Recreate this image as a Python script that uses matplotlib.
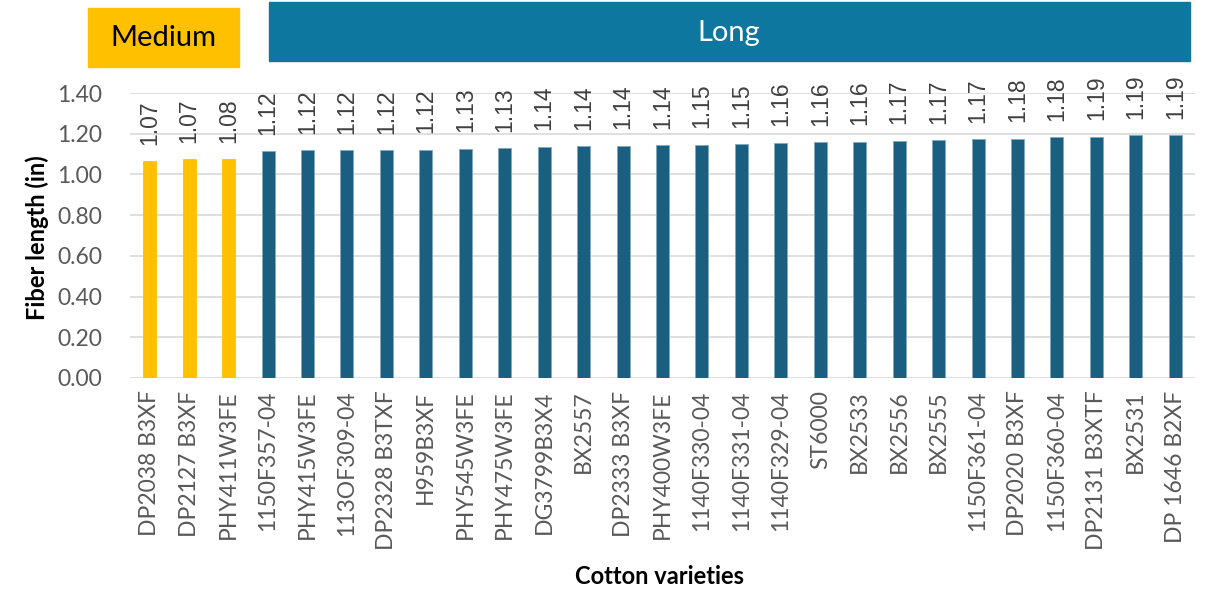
import matplotlib.pyplot as plt
from matplotlib.patches import Rectangle

plt.rcParams['font.family'] = ['Lato', 'DejaVu Sans']

varieties = ['DP2038 B3XF', 'DP2127 B3XF', 'PHY411W3FE', '1150F357-04', 'PHY415W3FE',
             '113OF309-04', 'DP2328 B3TXF', 'H959B3XF', 'PHY545W3FE', 'PHY475W3FE',
             'DG3799B3X4', 'BX2557', 'DP2333 B3XF', 'PHY400W3FE', '1140F330-04',
             '1140F331-04', '1140F329-04', 'ST6000', 'BX2533', 'BX2556', 'BX2555',
             '1150F361-04', 'DP2020 B3XF', '1150F360-04', 'DP2131 B3XTF', 'BX2531',
             'DP 1646 B2XF']
length = [1.066, 1.074, 1.076, 1.116, 1.118, 1.119, 1.121, 1.122, 1.126, 1.128,
          1.136, 1.138, 1.141, 1.143, 1.146, 1.148, 1.156, 1.159, 1.161, 1.166,
          1.169, 1.172, 1.176, 1.182, 1.186, 1.192, 1.193]
n_medium = 3

gold = '#FFC000'
blue = '#1A5F80'
gray = '#595959'

fig = plt.figure(figsize=(12.06, 5.92), dpi=100)
ax = fig.add_axes([130/1206, 1 - 378/592, 1065/1206, 285/592])

colors = [gold] * n_medium + [blue] * (len(length) - n_medium)
edges = [gold] * n_medium + ['#7FA9C0'] * (len(length) - n_medium)
x = list(range(len(length)))
bars = ax.bar(x, length, width=0.33, color=colors, edgecolor=edges, linewidth=0.6, zorder=3)

for xi, v in zip(x, length):
    ax.text(xi, v + 0.08, '%.2f' % v, rotation=90, ha='center', va='bottom',
            fontsize=16.5, color='#404040', family=['Liberation Sans', 'DejaVu Sans'])

ax.set_xlim(-0.5, len(length) - 0.5)
ax.set_ylim(0, 1.40)
ax.set_yticks([0, 0.2, 0.4, 0.6, 0.8, 1.0, 1.2, 1.4])
ax.set_yticklabels(['%.2f' % t for t in ax.get_yticks()], fontsize=16.5, color=gray)
ax.set_xticks(x)
ax.set_xticklabels(varieties, rotation=90, fontsize=16.5, color=gray)
ax.tick_params(axis='x', length=0, pad=9)
ax.tick_params(axis='y', length=0, pad=20)
ax.grid(axis='y', color='#D9D9D9', linewidth=1.2, zorder=0)
for s in ax.spines.values():
    s.set_visible(False)

fig.text(37/1206, 1 - 238/592, 'Fiber length (in)', rotation=90, ha='center', va='center',
         fontsize=17, fontweight='bold')
fig.text(660/1206, 1 - 577/592, 'Cotton varieties', ha='center', va='center',
         fontsize=17, fontweight='bold')

# category boxes
fig.patches.append(Rectangle((88/1206, 1 - 67/592), 151/1206, 59/592,
                             transform=fig.transFigure, color=gold, zorder=0))
fig.text(163/1206, 1 - 38/592, 'Medium', ha='center', va='center', fontsize=21, color='black')
fig.patches.append(Rectangle((269/1206, 1 - 61/592), 921/1206, 59/592,
                             transform=fig.transFigure, color='#0E77A0', zorder=0))
fig.text(729/1206, 1 - 33/592, 'Long', ha='center', va='center', fontsize=21, color='white')

plt.savefig('out.png')
